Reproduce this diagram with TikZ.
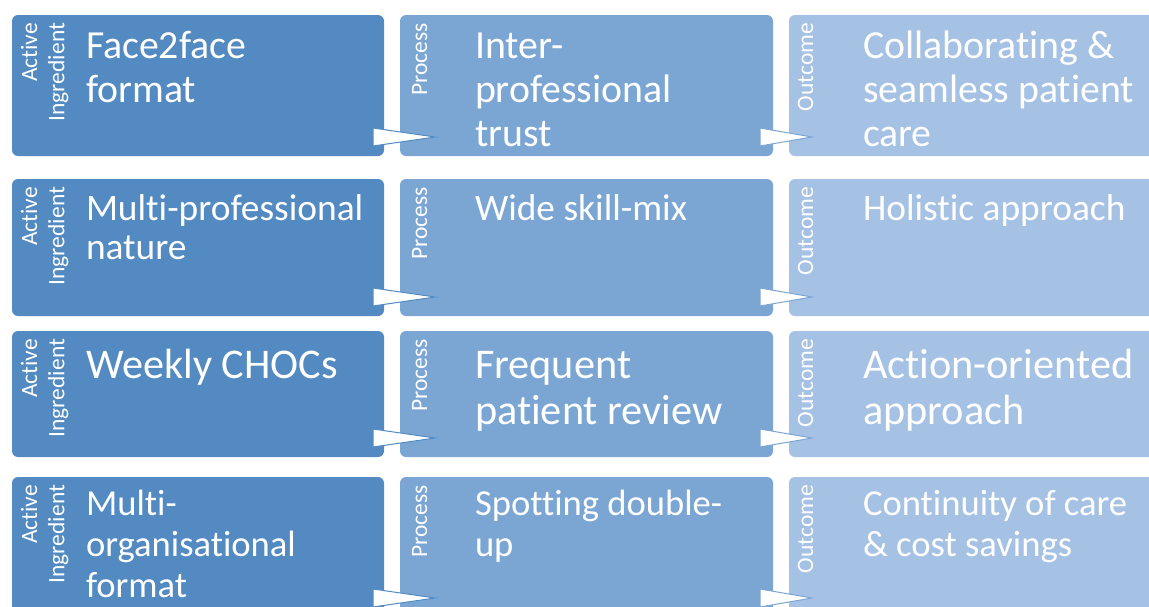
\documentclass[tikz,border=0pt]{standalone}
\usepackage{fontspec}
\setmainfont[RawFeature={-liga;-clig}]{Carlito}
\usetikzlibrary{calc}
\definecolor{cA}{RGB}{82,138,193}
\definecolor{cB}{RGB}{123,166,211}
\definecolor{cC}{RGB}{165,193,228}
\tikzset{
  boxbase/.style={rectangle, rounded corners=6pt, inner sep=0pt, outer sep=0pt, anchor=north west, draw=none},
  boxA/.style={boxbase, fill=cA, minimum width=372pt},
  boxB/.style={boxbase, fill=cB, minimum width=373pt},
  boxC/.style={boxbase, fill=cC, minimum width=376pt},
  lbl/.style={rotate=90, anchor=base east, inner sep=0pt, outer sep=0pt, text=white, font=\fontsize{23.5}{27.5}\selectfont},
  maintxt/.style={anchor=base west, inner sep=0pt, outer sep=0pt, text=white},
  tri/.style={fill=white, line width=1pt, line join=miter}
}
\begin{document}
\begin{tikzpicture}[x=1pt,y=1pt]
\useasboundingbox (0,0) rectangle (1149,-606);
\clip (0,0) rectangle (1149,-606);
% boxes
\node[boxA, minimum height=141pt] (bA1) at (12,-15) {};
\node[boxB, minimum height=141pt] (bB1) at (400,-15) {};
\node[boxC, minimum height=141pt] (bC1) at (789,-15) {};
\node[boxA, minimum height=137pt] (bA2) at (12,-179) {};
\node[boxB, minimum height=137pt] (bB2) at (400,-179) {};
\node[boxC, minimum height=137pt] (bC2) at (789,-179) {};
\node[boxA, minimum height=126pt] (bA3) at (12,-331) {};
\node[boxB, minimum height=126pt] (bB3) at (400,-331) {};
\node[boxC, minimum height=126pt] (bC3) at (789,-331) {};
\node[boxA, minimum height=140pt] (bA4) at (12,-477) {};
\node[boxB, minimum height=140pt] (bB4) at (400,-477) {};
\node[boxC, minimum height=140pt] (bC4) at (789,-477) {};
% arrows
\foreach \r in {1,2,3,4}{
  \draw[tri, draw=cA] ([shift={(-11,10)}]bA\r.south east) -- ([shift={(-11,28)}]bA\r.south east) -- ([shift={(51,19)}]bA\r.south east) -- cycle;
  \draw[tri, draw=cB] ([shift={(-13,10)}]bB\r.south east) -- ([shift={(-13,28)}]bB\r.south east) -- ([shift={(39,19)}]bB\r.south east) -- cycle;
}
% labels
\foreach \r in {1,2,3,4}{
  \node[lbl] (lA\r) at ([shift={(25,-8)}]bA\r.north west) {\parbox[t]{120pt}{\raggedleft Active\\Ingredient}};
  \node[lbl] (lB\r) at ([shift={(27,-8)}]bB\r.north west) {\parbox[t]{120pt}{\raggedleft Process}};
  \node[lbl] (lC\r) at ([shift={(24,-8)}]bC\r.north west) {\parbox[t]{120pt}{\raggedleft Outcome}};
}
% row 1
\node[maintxt, font=\fontsize{39.8}{44}\selectfont] (tA1) at ([shift={(74,-43)}]bA1.north west) {\parbox[t]{300pt}{\raggedright Face2face\\format}};
\node[maintxt, font=\fontsize{39.8}{44}\selectfont] (tB1) at ([shift={(75,-43)}]bB1.north west) {\parbox[t]{300pt}{\raggedright Inter-\\professional\\trust}};
\node[maintxt, font=\fontsize{39.8}{44}\selectfont] (tC1) at ([shift={(74,-43)}]bC1.north west) {\parbox[t]{320pt}{\raggedright Collaborating \&\\seamless patient\\care}};
% row 2
\node[maintxt, font=\fontsize{37.4}{39.5}\selectfont] (tA2) at ([shift={(74,-41)}]bA2.north west) {\parbox[t]{320pt}{\raggedright Multi-professional\\nature}};
\node[maintxt, font=\fontsize{37.4}{39.5}\selectfont] (tB2) at ([shift={(75,-41)}]bB2.north west) {\parbox[t]{300pt}{\raggedright Wide skill-mix}};
\node[maintxt, font=\fontsize{37.4}{39.5}\selectfont] (tC2) at ([shift={(74,-41)}]bC2.north west) {\parbox[t]{320pt}{\raggedright Holistic approach}};
% row 3
\node[maintxt, font=\fontsize{42.3}{46}\selectfont] (tA3) at ([shift={(74,-47)}]bA3.north west) {\parbox[t]{300pt}{\raggedright Weekly CHOCs}};
\node[maintxt, font=\fontsize{42.3}{46}\selectfont] (tB3) at ([shift={(75,-47)}]bB3.north west) {\parbox[t]{300pt}{\raggedright Frequent\\patient review}};
\node[maintxt, font=\fontsize{42.3}{46}\selectfont] (tC3) at ([shift={(74,-47)}]bC3.north west) {\parbox[t]{320pt}{\raggedright Action-oriented\\approach}};
% row 4
\node[maintxt, font=\fontsize{36.6}{41}\selectfont] (tA4) at ([shift={(74,-38)}]bA4.north west) {\parbox[t]{300pt}{\raggedright Multi-\\organisational\\format}};
\node[maintxt, font=\fontsize{36.6}{41}\selectfont] (tB4) at ([shift={(75,-38)}]bB4.north west) {\parbox[t]{300pt}{\raggedright Spotting double-\\up}};
\node[maintxt, font=\fontsize{36.6}{41}\selectfont] (tC4) at ([shift={(74,-38)}]bC4.north west) {\parbox[t]{320pt}{\raggedright Continuity of care\\\& cost savings}};
\end{tikzpicture}
\end{document}
